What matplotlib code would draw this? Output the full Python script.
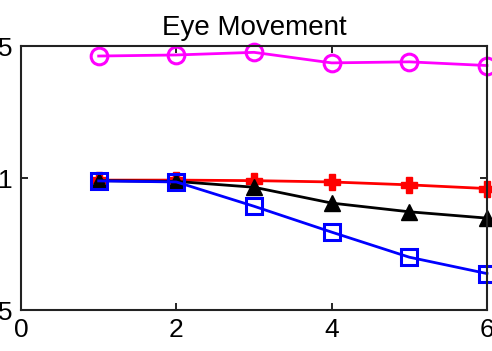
import matplotlib.pyplot as plt

# trial number and the four eye-movement series
trial = [1, 2, 3, 4, 5, 6]
magenta_vals = [1.462, 1.466, 1.476, 1.436, 1.440, 1.426]
red_vals = [0.992, 0.992, 0.990, 0.985, 0.974, 0.960]
black_vals = [0.990, 0.987, 0.965, 0.905, 0.872, 0.848]
blue_vals = [0.989, 0.985, 0.893, 0.795, 0.700, 0.638]

xticks = [0, 2, 4, 6]
yticks = [0.5, 1, 1.5]
ytick_labels = ['0.5', '1', '1.5']

plt.rcParams['font.family'] = ['Liberation Sans', 'DejaVu Sans']

fig = plt.figure(figsize=(4.92, 3.51), dpi=100)
ax = fig.add_axes([21 / 492, 41 / 351, 466 / 492, 264 / 351])

lw = 2.0
ax.plot(trial, red_vals, color='red', lw=lw, marker='P', ms=11,
        clip_on=False)
ax.plot(trial, black_vals, color='black', lw=lw, marker='^', ms=11,
        clip_on=False)
ax.plot(trial, blue_vals, color='blue', lw=lw, marker='s', ms=11,
        mfc='none', mew=2.2, clip_on=False)
ax.plot(trial, magenta_vals, color='magenta', lw=lw, marker='o', ms=12,
        mfc='none', mew=2.2, clip_on=False)

ax.set_xlim(0, 6)
ax.set_ylim(0.5, 1.5)
ax.set_xticks(xticks)
ax.set_yticks(yticks)
ax.set_yticklabels(ytick_labels)
ax.tick_params(direction='in', length=5, width=1.2, labelsize=19, pad=6,
               top=True, right=True)
for s in ax.spines.values():
    s.set_linewidth(1.5)
    s.set_color('#222222')

ax.set_title('Eye Movement', fontsize=20, pad=8)

fig.savefig('out.png', dpi=100)
